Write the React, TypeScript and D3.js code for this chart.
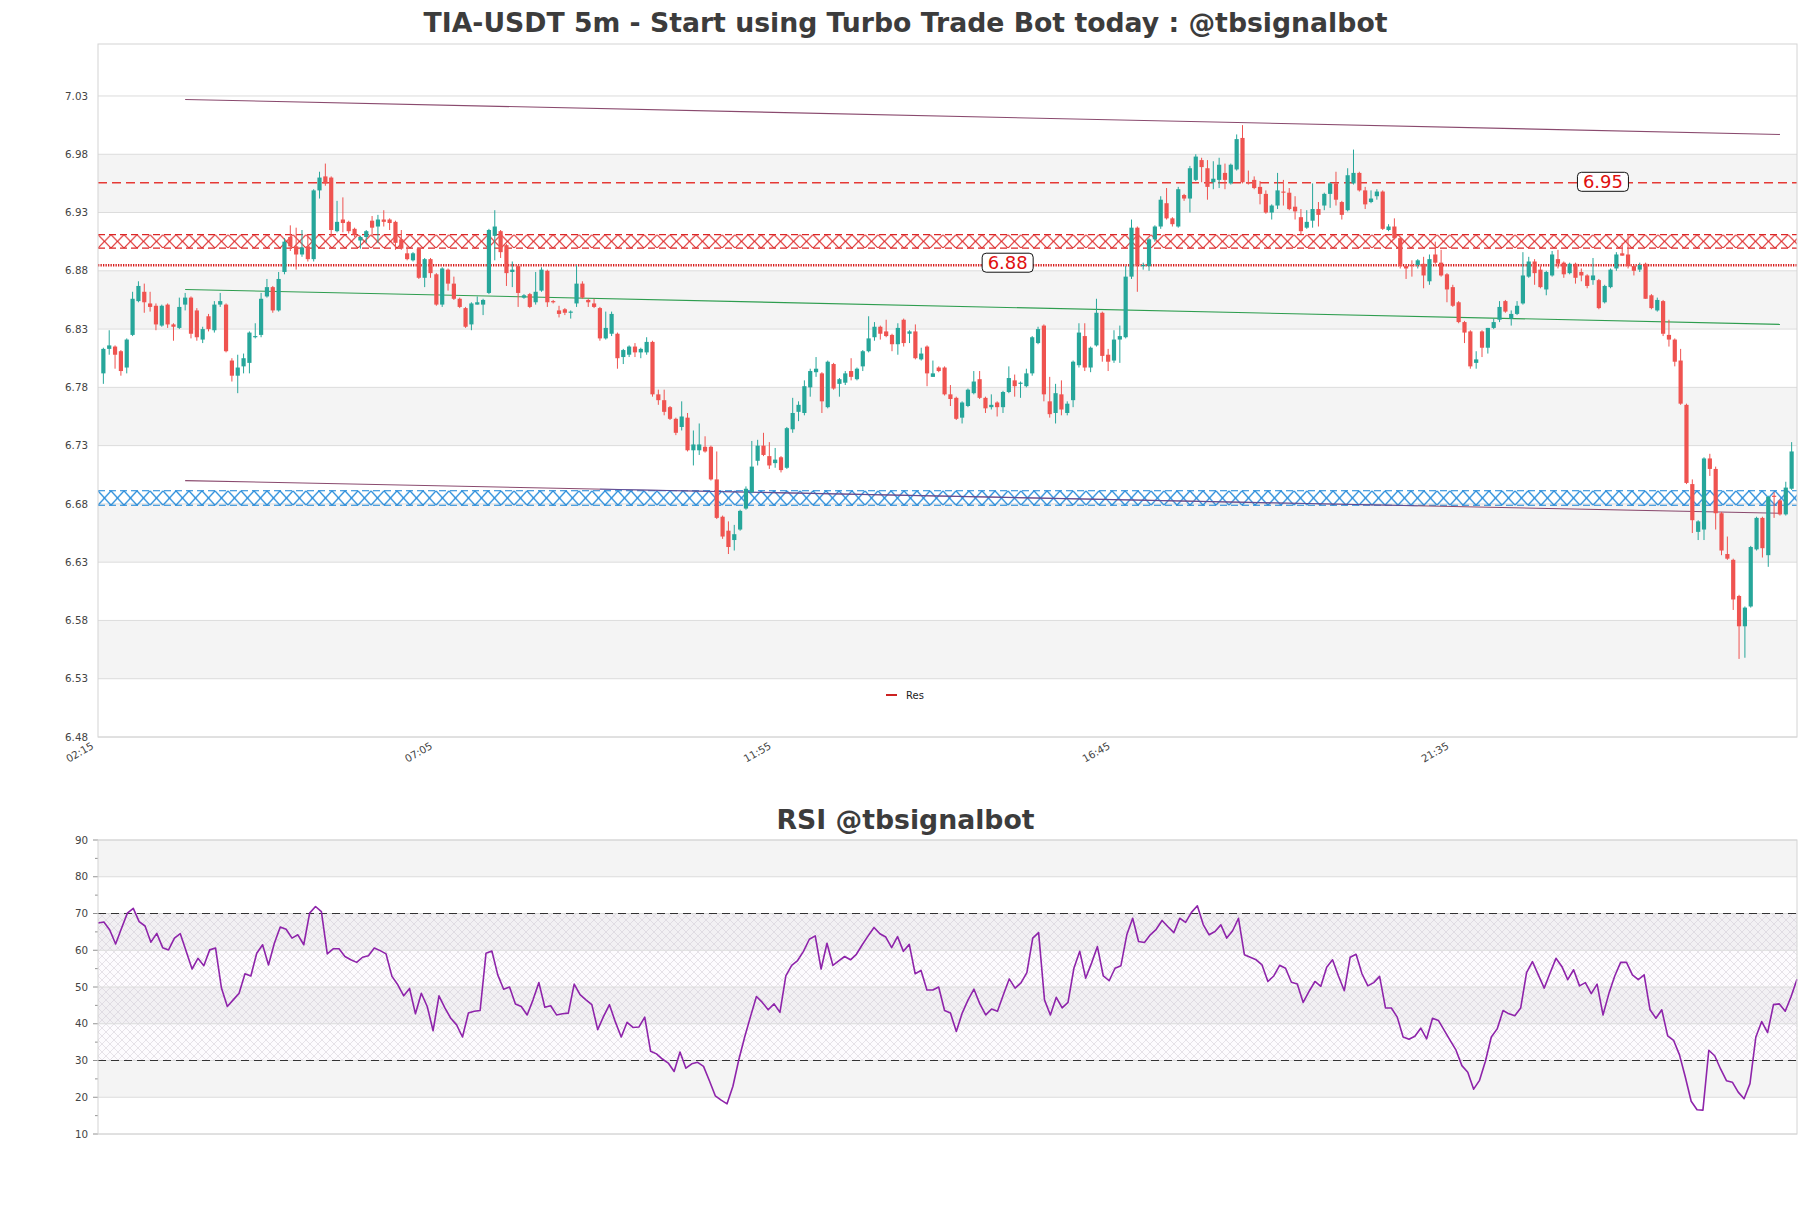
import React from 'react';
import * as d3 from 'd3';

const opens = [6.792,6.813,6.815,6.811,6.797,6.825,6.854,6.862,6.852,6.850,6.833,6.851,6.834,6.831,6.851,6.857,6.846,6.821,6.841,6.829,6.851,6.851,6.803,6.790,6.798,6.801,6.823,6.825,6.858,6.866,6.846,6.879,6.909,6.901,6.894,6.901,6.890,6.949,6.961,6.960,6.914,6.924,6.922,6.916,6.906,6.909,6.923,6.918,6.924,6.924,6.922,6.907,6.895,6.889,6.899,6.874,6.890,6.877,6.851,6.881,6.869,6.856,6.848,6.834,6.851,6.851,6.861,6.910,6.914,6.902,6.879,6.884,6.857,6.860,6.853,6.863,6.880,6.854,6.846,6.847,6.844,6.852,6.869,6.855,6.852,6.848,6.822,6.826,6.826,6.806,6.808,6.815,6.810,6.810,6.819,6.774,6.769,6.763,6.753,6.746,6.754,6.726,6.726,6.729,6.729,6.701,6.669,6.657,6.649,6.658,6.676,6.690,6.717,6.730,6.721,6.715,6.720,6.711,6.744,6.759,6.758,6.780,6.793,6.792,6.763,6.800,6.783,6.784,6.794,6.787,6.798,6.811,6.823,6.832,6.828,6.825,6.817,6.838,6.826,6.828,6.804,6.815,6.789,6.797,6.797,6.774,6.771,6.754,6.764,6.775,6.787,6.771,6.763,6.767,6.763,6.776,6.786,6.783,6.781,6.792,6.818,6.833,6.768,6.758,6.774,6.758,6.769,6.799,6.824,6.797,6.816,6.844,6.808,6.803,6.821,6.823,6.875,6.917,6.884,6.884,6.907,6.918,6.938,6.925,6.918,6.945,6.942,6.958,6.975,6.968,6.956,6.958,6.964,6.955,6.967,6.994,6.956,6.958,6.952,6.946,6.930,6.936,6.948,6.947,6.935,6.926,6.917,6.923,6.933,6.936,6.946,6.955,6.939,6.932,6.955,6.964,6.949,6.939,6.944,6.948,6.915,6.918,6.908,6.884,6.885,6.885,6.886,6.871,6.894,6.887,6.877,6.866,6.853,6.836,6.828,6.801,6.828,6.814,6.831,6.838,6.854,6.839,6.843,6.852,6.875,6.888,6.881,6.864,6.876,6.890,6.887,6.878,6.886,6.879,6.876,6.872,6.872,6.853,6.866,6.882,6.895,6.894,6.884,6.881,6.886,6.859,6.846,6.854,6.825,6.821,6.803,6.765,6.697,6.656,6.658,6.719,6.710,6.672,6.637,6.632,6.601,6.575,6.592,6.641,6.668,6.636,6.687,6.683,6.671,6.693];
const highs = [6.814,6.829,6.816,6.812,6.822,6.862,6.871,6.869,6.862,6.852,6.851,6.852,6.835,6.857,6.861,6.858,6.848,6.832,6.843,6.854,6.861,6.852,6.805,6.808,6.809,6.828,6.835,6.861,6.873,6.867,6.879,6.908,6.919,6.917,6.915,6.911,6.950,6.965,6.972,6.961,6.940,6.943,6.923,6.917,6.910,6.915,6.927,6.928,6.932,6.925,6.923,6.915,6.901,6.896,6.900,6.891,6.891,6.878,6.883,6.882,6.875,6.857,6.849,6.853,6.858,6.856,6.916,6.932,6.915,6.903,6.888,6.885,6.860,6.861,6.879,6.883,6.881,6.855,6.850,6.848,6.846,6.885,6.871,6.856,6.856,6.849,6.845,6.845,6.827,6.813,6.816,6.818,6.814,6.823,6.820,6.778,6.778,6.764,6.754,6.768,6.758,6.743,6.749,6.738,6.730,6.725,6.670,6.665,6.662,6.675,6.695,6.734,6.735,6.741,6.733,6.728,6.721,6.746,6.771,6.768,6.786,6.796,6.806,6.793,6.803,6.801,6.788,6.794,6.805,6.797,6.812,6.841,6.836,6.833,6.838,6.826,6.835,6.839,6.829,6.834,6.814,6.816,6.803,6.798,6.798,6.782,6.772,6.768,6.779,6.794,6.794,6.772,6.774,6.768,6.777,6.798,6.791,6.785,6.796,6.824,6.832,6.834,6.789,6.783,6.786,6.768,6.803,6.835,6.835,6.815,6.856,6.845,6.813,6.829,6.833,6.884,6.924,6.918,6.887,6.908,6.919,6.944,6.951,6.926,6.952,6.946,6.970,6.980,6.977,6.975,6.974,6.977,6.972,6.972,6.997,7.005,6.966,6.961,6.957,6.949,6.937,6.964,6.958,6.951,6.944,6.933,6.932,6.955,6.939,6.947,6.956,6.965,6.940,6.968,6.984,6.965,6.952,6.949,6.950,6.949,6.920,6.925,6.909,6.885,6.889,6.890,6.892,6.894,6.905,6.898,6.878,6.868,6.854,6.837,6.829,6.811,6.829,6.831,6.839,6.854,6.855,6.846,6.854,6.896,6.892,6.890,6.884,6.880,6.897,6.898,6.888,6.887,6.887,6.882,6.877,6.891,6.873,6.868,6.882,6.896,6.904,6.911,6.885,6.887,6.887,6.860,6.857,6.855,6.838,6.822,6.813,6.766,6.701,6.666,6.720,6.723,6.712,6.673,6.652,6.633,6.602,6.592,6.644,6.669,6.669,6.687,6.690,6.684,6.699,6.733];
const lows = [6.783,6.808,6.796,6.790,6.792,6.824,6.853,6.844,6.845,6.829,6.832,6.831,6.820,6.830,6.846,6.822,6.820,6.818,6.828,6.827,6.849,6.810,6.785,6.775,6.792,6.792,6.822,6.823,6.857,6.844,6.845,6.877,6.897,6.881,6.892,6.888,6.888,6.942,6.953,6.909,6.913,6.913,6.912,6.909,6.899,6.904,6.909,6.904,6.918,6.915,6.898,6.898,6.889,6.888,6.873,6.866,6.874,6.850,6.849,6.863,6.855,6.848,6.831,6.829,6.851,6.842,6.860,6.889,6.891,6.867,6.866,6.849,6.856,6.848,6.851,6.862,6.849,6.852,6.840,6.842,6.839,6.849,6.856,6.849,6.848,6.820,6.821,6.824,6.796,6.800,6.806,6.806,6.805,6.808,6.772,6.765,6.756,6.752,6.739,6.743,6.725,6.713,6.722,6.724,6.700,6.667,6.650,6.637,6.640,6.657,6.675,6.689,6.713,6.721,6.710,6.711,6.707,6.710,6.741,6.751,6.756,6.772,6.789,6.758,6.762,6.778,6.772,6.782,6.786,6.786,6.794,6.810,6.820,6.821,6.823,6.811,6.808,6.815,6.818,6.804,6.803,6.781,6.789,6.793,6.773,6.764,6.752,6.749,6.763,6.774,6.770,6.758,6.761,6.755,6.758,6.775,6.772,6.771,6.780,6.790,6.817,6.768,6.754,6.749,6.756,6.756,6.763,6.797,6.794,6.793,6.815,6.802,6.794,6.801,6.801,6.822,6.873,6.862,6.881,6.880,6.905,6.916,6.924,6.918,6.917,6.940,6.930,6.957,6.956,6.941,6.950,6.951,6.950,6.954,6.966,6.955,6.954,6.950,6.937,6.929,6.924,6.933,6.936,6.932,6.924,6.911,6.916,6.917,6.918,6.932,6.934,6.936,6.924,6.931,6.954,6.948,6.933,6.938,6.941,6.915,6.914,6.907,6.882,6.873,6.875,6.882,6.865,6.868,6.886,6.875,6.853,6.849,6.835,6.818,6.796,6.796,6.806,6.809,6.830,6.836,6.844,6.833,6.842,6.851,6.874,6.868,6.865,6.859,6.875,6.882,6.874,6.877,6.869,6.871,6.865,6.868,6.847,6.852,6.865,6.880,6.893,6.882,6.876,6.879,6.856,6.847,6.845,6.824,6.815,6.798,6.765,6.697,6.655,6.649,6.649,6.704,6.658,6.636,6.632,6.589,6.547,6.548,6.591,6.640,6.634,6.626,6.668,6.670,6.670,6.692];
const closes = [6.813,6.816,6.808,6.794,6.821,6.856,6.867,6.853,6.849,6.834,6.850,6.834,6.832,6.849,6.857,6.826,6.823,6.830,6.830,6.851,6.854,6.811,6.790,6.797,6.805,6.827,6.824,6.856,6.866,6.846,6.873,6.905,6.901,6.894,6.900,6.890,6.949,6.960,6.955,6.915,6.922,6.921,6.914,6.911,6.909,6.914,6.917,6.924,6.922,6.921,6.904,6.899,6.890,6.895,6.874,6.890,6.878,6.851,6.882,6.869,6.856,6.849,6.832,6.852,6.853,6.855,6.915,6.918,6.896,6.878,6.881,6.861,6.859,6.849,6.862,6.881,6.853,6.853,6.843,6.844,6.845,6.869,6.857,6.853,6.849,6.822,6.831,6.843,6.805,6.812,6.815,6.810,6.813,6.819,6.774,6.769,6.759,6.753,6.741,6.755,6.726,6.731,6.731,6.725,6.701,6.668,6.652,6.643,6.654,6.674,6.693,6.712,6.730,6.722,6.713,6.718,6.709,6.745,6.758,6.765,6.781,6.794,6.796,6.768,6.802,6.779,6.787,6.792,6.789,6.796,6.811,6.822,6.832,6.826,6.824,6.817,6.831,6.818,6.828,6.805,6.809,6.792,6.792,6.794,6.774,6.770,6.753,6.767,6.778,6.785,6.771,6.762,6.765,6.763,6.776,6.788,6.781,6.784,6.792,6.823,6.830,6.774,6.757,6.775,6.761,6.766,6.802,6.827,6.797,6.814,6.844,6.807,6.802,6.821,6.824,6.875,6.917,6.885,6.885,6.907,6.918,6.941,6.925,6.920,6.950,6.942,6.968,6.978,6.969,6.952,6.959,6.971,6.958,6.971,6.993,6.956,6.955,6.951,6.946,6.930,6.936,6.949,6.947,6.933,6.931,6.914,6.922,6.933,6.928,6.946,6.955,6.941,6.928,6.962,6.964,6.949,6.937,6.942,6.948,6.916,6.918,6.908,6.884,6.882,6.884,6.889,6.876,6.890,6.887,6.876,6.864,6.850,6.836,6.827,6.798,6.804,6.814,6.831,6.836,6.849,6.845,6.843,6.850,6.876,6.888,6.878,6.866,6.879,6.894,6.886,6.877,6.886,6.874,6.876,6.867,6.876,6.848,6.867,6.881,6.894,6.893,6.884,6.880,6.885,6.856,6.848,6.855,6.826,6.821,6.802,6.766,6.698,6.666,6.665,6.719,6.710,6.672,6.640,6.633,6.598,6.575,6.591,6.643,6.668,6.642,6.686,6.686,6.671,6.694,6.725];
const rsiValues = [67.4,67.7,65.5,61.7,66.0,70.1,71.4,67.8,66.6,62.2,64.6,60.7,60.1,63.3,64.5,59.7,54.9,57.8,55.8,60.1,60.6,49.7,44.7,46.5,48.3,53.6,53.0,59.2,61.5,56.0,61.9,66.3,65.7,63.3,64.2,61.5,70.1,71.9,70.5,59.0,60.4,60.4,58.3,57.4,56.7,58.1,58.5,60.6,59.9,59.0,52.9,50.6,47.6,49.6,42.7,48.3,44.7,38.1,47.6,44.3,41.5,39.7,36.4,42.9,43.4,43.6,59.2,59.8,53.3,49.4,50.0,45.4,44.7,42.4,46.5,51.2,44.5,44.9,42.4,42.7,42.9,50.8,47.9,46.5,45.2,38.4,42.0,45.2,40.5,36.4,40.4,39.0,39.1,41.8,32.5,31.8,30.4,29.3,27.0,32.3,27.9,29.1,29.5,28.4,24.5,20.4,19.2,18.2,23.0,30.2,36.4,42.0,47.4,45.8,43.8,45.4,43.1,53.0,55.9,57.2,59.7,63.0,63.9,54.9,61.9,55.9,57.1,58.3,57.4,58.9,61.5,63.9,66.2,64.5,63.6,60.7,63.7,59.7,61.6,53.6,54.5,49.2,49.2,50.0,43.6,42.9,37.9,42.9,46.5,49.4,45.4,42.4,44.0,43.4,47.9,52.2,49.7,51.1,53.9,63.3,64.8,46.5,42.4,47.2,44.3,45.8,55.1,59.7,52.4,56.5,61.0,53.0,51.7,55.1,55.8,64.2,68.7,62.4,62.1,64.2,65.7,68.1,66.4,64.8,68.7,67.6,70.3,72.1,67.0,64.2,65.1,66.9,63.3,65.3,68.7,58.8,58.1,57.4,56.0,51.5,53.0,55.9,55.1,51.3,50.8,45.8,48.8,51.5,50.2,55.4,57.4,53.0,49.0,58.1,58.9,53.6,50.3,51.2,52.9,44.3,44.3,41.8,36.4,35.8,36.6,38.8,35.9,41.5,40.9,38.2,35.5,32.8,28.6,26.8,22.2,24.6,29.8,36.4,38.6,43.6,42.7,42.2,44.3,53.9,56.9,53.3,49.7,53.8,57.8,55.6,52.0,54.7,50.3,51.2,48.2,50.8,42.4,48.2,53.0,56.7,56.7,53.3,52.0,53.3,43.8,41.5,43.8,36.7,35.5,31.6,25.5,18.9,16.6,16.5,32.8,31.3,27.7,24.5,24.1,21.4,19.6,23.7,36.4,40.6,37.6,45.2,45.4,43.4,47.4,52.1];

const timeTickIndex = [0, 58, 116, 174, 232];
const timeTickLabels = ['02:15', '07:05', '11:55', '16:45', '21:35'];
const priceTicks = [6.48, 6.53, 6.58, 6.63, 6.68, 6.73, 6.78, 6.83, 6.88, 6.93, 6.98, 7.03];
const rsiTicks = [10, 20, 30, 40, 50, 60, 70, 80, 90];
const rsiMinorTicks = [15, 25, 35, 45, 55, 65, 75, 85];
const rsiLevels = [70, 30];

const resistanceLevel = 6.9555;
const resistanceLabel = '6.95';
const resistanceLabelIndex = 256.7;
const pivotLevel = 6.8848;
const pivotLabel = '6.88';
const pivotLabelIndex = 154.8;
const resZone = [6.8995, 6.911];
const supZone = [6.6788, 6.6913];
const upperTrend = [[14, 7.027], [287, 6.997]];
const lowerTrend = [[14, 6.7], [287, 6.672]];
const midTrend = [[14, 6.864], [287, 6.834]];
const blueSegment = [85, 225];

const TITLE = 'TIA-USDT 5m - Start using Turbo Trade Bot today : @tbsignalbot';
const RSI_TITLE = 'RSI @tbsignalbot';
const FONT = '"DejaVu Sans", Verdana, sans-serif';

const W = 1811, H = 1208;
const L = 98, R = 1797;
const MT = 44, MB = 737;
const RT = 840, RB = 1134;
const UP = '#26a69a', DOWN = '#ef5350';

export default function App() {
  const n = closes.length;
  const x = d3.scaleLinear().domain([-0.92, n - 1 + 0.92]).range([L, R]);
  const y = d3.scaleLinear().domain([6.48, 7.0746]).range([MB, MT]);
  const xr = d3.scaleLinear().domain([0, n - 1]).range([L, R]);
  const yr = d3.scaleLinear().domain([10, 90]).range([RB, RT]);

  const rsiLine = d3.line<number>().x((_, i) => xr(i)).y((d) => yr(d))(rsiValues) || '';
  const interp = (seg: number[][], i: number) => {
    const [a, b] = seg;
    return a[1] + (b[1] - a[1]) * (i - a[0]) / (b[0] - a[0]);
  };

  const bodyW = 4.2;
  const rzTop = y(resZone[1]), rzBot = y(resZone[0]);
  const szTop = y(supZone[1]), szBot = y(supZone[0]);

  return (
    <svg width={W} height={H} style={{ position: 'absolute', left: 0, top: 0, background: '#fff' }} fontFamily={FONT}>
      <defs>
        <pattern id="redHatch" patternUnits="userSpaceOnUse" x={L} y={rzTop} width={13} height={rzBot - rzTop}>
          <path d={`M0,0 L13,${rzBot - rzTop} M13,0 L0,${rzBot - rzTop}`} stroke="#dc2626" strokeWidth={1.15} fill="none" />
        </pattern>
        <pattern id="blueHatch" patternUnits="userSpaceOnUse" x={L} y={szTop} width={13} height={szBot - szTop}>
          <path d={`M0,0 L13,${szBot - szTop} M13,0 L0,${szBot - szTop}`} stroke="#1683d8" strokeWidth={1.15} fill="none" />
        </pattern>
        <pattern id="rsiHatch" patternUnits="userSpaceOnUse" x={L} y={RT} width={8} height={8}>
          <path d="M0,0 L8,8 M8,0 L0,8" stroke="#cfc9d3" strokeWidth={0.5} fill="none" />
        </pattern>
        <clipPath id="mainClip"><rect x={L} y={MT} width={R - L} height={MB - MT} /></clipPath>
      </defs>
      <rect x={0} y={0} width={W} height={H} fill="#fff" />

      <text x={W / 2} y={32} textAnchor="middle" fontSize={26.7} fontWeight="bold" fill="#3c3c3c">{TITLE}</text>

      {priceTicks.slice(0, -1).map((t, i) => i % 2 === 1 ? (
        <rect key={'b' + i} x={L} y={y(priceTicks[i + 1])} width={R - L} height={y(t) - y(priceTicks[i + 1])} fill="#f4f4f4" />
      ) : null)}
      {priceTicks.map((t) => (
        <line key={'g' + t} x1={L} x2={R} y1={y(t)} y2={y(t)} stroke="#dcdcdc" strokeWidth={1} />
      ))}
      {priceTicks.map((t) => (
        <text key={'t' + t} x={88} y={y(t)} dy="0.35em" textAnchor="end" fontSize={10.3} fill="#444">{t.toFixed(2)}</text>
      ))}
      {timeTickIndex.map((ti, k) => (
        <text key={'x' + ti} transform={`translate(${x(ti) - 9},${MB + 11}) rotate(-30)`} textAnchor="end" fontSize={10.3} fill="#444">{timeTickLabels[k]}</text>
      ))}

      <g clipPath="url(#mainClip)">
        <rect x={L} y={rzTop} width={R - L} height={rzBot - rzTop} fill="url(#redHatch)" />
        <line x1={L} x2={R} y1={rzTop} y2={rzTop} stroke="#dc2626" strokeWidth={1.1} strokeDasharray="7,4" />
        <line x1={L} x2={R} y1={rzBot} y2={rzBot} stroke="#dc2626" strokeWidth={1.1} strokeDasharray="7,4" />
        <rect x={L} y={szTop} width={R - L} height={szBot - szTop} fill="url(#blueHatch)" />
        <line x1={L} x2={R} y1={szTop} y2={szTop} stroke="#1683d8" strokeWidth={1.1} strokeDasharray="7,4" />
        <line x1={L} x2={R} y1={szBot} y2={szBot} stroke="#1683d8" strokeWidth={1.1} strokeDasharray="7,4" />

        <line x1={L} x2={R} y1={y(resistanceLevel)} y2={y(resistanceLevel)} stroke="#e53935" strokeWidth={1.4} strokeDasharray="9,5" />
        <line x1={L} x2={R} y1={y(pivotLevel)} y2={y(pivotLevel)} stroke="#d81b1b" strokeWidth={2.6} strokeDasharray="1.3,1.2" />

        <line x1={x(upperTrend[0][0])} x2={x(upperTrend[1][0])} y1={y(upperTrend[0][1])} y2={y(upperTrend[1][1])} stroke="#8a4a6e" strokeWidth={1.1} />
        <line x1={x(lowerTrend[0][0])} x2={x(lowerTrend[1][0])} y1={y(lowerTrend[0][1])} y2={y(lowerTrend[1][1])} stroke="#8a4a6e" strokeWidth={1.1} />
        <line x1={x(blueSegment[0])} x2={x(blueSegment[1])} y1={y(interp(lowerTrend, blueSegment[0]))} y2={y(interp(lowerTrend, blueSegment[1]))} stroke="#3f51b5" strokeWidth={1} opacity={0.6} />
        <line x1={x(midTrend[0][0])} x2={x(midTrend[1][0])} y1={y(midTrend[0][1])} y2={y(midTrend[1][1])} stroke="#2e9d4f" strokeWidth={1.1} />

        {closes.map((c, i) => {
          const o = opens[i];
          const col = c >= o ? UP : DOWN;
          const top = y(Math.max(o, c));
          const h = Math.max(1, Math.abs(y(o) - y(c)));
          return (
            <g key={'c' + i}>
              <line x1={x(i)} x2={x(i)} y1={y(highs[i])} y2={y(lows[i])} stroke={col} strokeWidth={1} />
              <rect x={x(i) - bodyW / 2} y={top} width={bodyW} height={h} fill={col} />
            </g>
          );
        })}
      </g>

      {[[pivotLabelIndex, pivotLevel, pivotLabel, -2.5], [resistanceLabelIndex, resistanceLevel, resistanceLabel, -1]].map(([li, lv, lb, off]) => (
        <g key={'lab' + lb} transform={`translate(${x(li as number)},${y(lv as number) + (off as number)})`}>
          <rect x={-25.5} y={-9.5} width={51} height={19} rx={4} ry={4} fill="#fff" stroke="#111" strokeWidth={1} />
          <text x={0} y={0} dy="0.37em" textAnchor="middle" fontSize={18} fill="#e01010">{lb as string}</text>
        </g>
      ))}

      <line x1={886} x2={897} y1={695} y2={695} stroke="#cc2222" strokeWidth={2} />
      <text x={906} y={698.5} fontSize={10} fill="#222">Res</text>

      <rect x={L} y={MT} width={R - L} height={MB - MT} fill="none" stroke="#d4d4d4" strokeWidth={1} />

      <text x={W / 2} y={829} textAnchor="middle" fontSize={26.7} fontWeight="bold" fill="#3c3c3c">{RSI_TITLE}</text>
      {rsiTicks.slice(0, -1).map((t, i) => i % 2 === 1 ? (
        <rect key={'rb' + i} x={L} y={yr(rsiTicks[i + 1])} width={R - L} height={yr(t) - yr(rsiTicks[i + 1])} fill="#f4f4f4" />
      ) : null)}
      <rect x={L} y={yr(70)} width={R - L} height={yr(30) - yr(70)} fill="#7b1fa2" opacity={0.015} />
      <rect x={L} y={yr(70)} width={R - L} height={yr(30) - yr(70)} fill="url(#rsiHatch)" />
      {rsiTicks.map((t) => (
        <line key={'rg' + t} x1={L} x2={R} y1={yr(t)} y2={yr(t)} stroke="#dcdcdc" strokeWidth={1} />
      ))}
      {rsiTicks.map((t) => (
        <g key={'rt' + t}>
          <line x1={L - 5} x2={L} y1={yr(t)} y2={yr(t)} stroke="#777" strokeWidth={0.8} />
          <text x={88} y={yr(t)} dy="0.35em" textAnchor="end" fontSize={10.3} fill="#444">{t}</text>
        </g>
      ))}
      {rsiMinorTicks.map((t) => (
        <line key={'rm' + t} x1={L - 3} x2={L} y1={yr(t)} y2={yr(t)} stroke="#777" strokeWidth={0.8} />
      ))}
      {rsiLevels.map((lv) => (
        <line key={'rl' + lv} x1={L} x2={R} y1={yr(lv)} y2={yr(lv)} stroke="#333" strokeWidth={1.2} strokeDasharray="8,5" />
      ))}
      <path d={rsiLine} fill="none" stroke="#8e24aa" strokeWidth={1.6} strokeLinejoin="round" />
      <rect x={L} y={RT} width={R - L} height={RB - RT} fill="none" stroke="#d4d4d4" strokeWidth={1} />
    </svg>
  );
}
